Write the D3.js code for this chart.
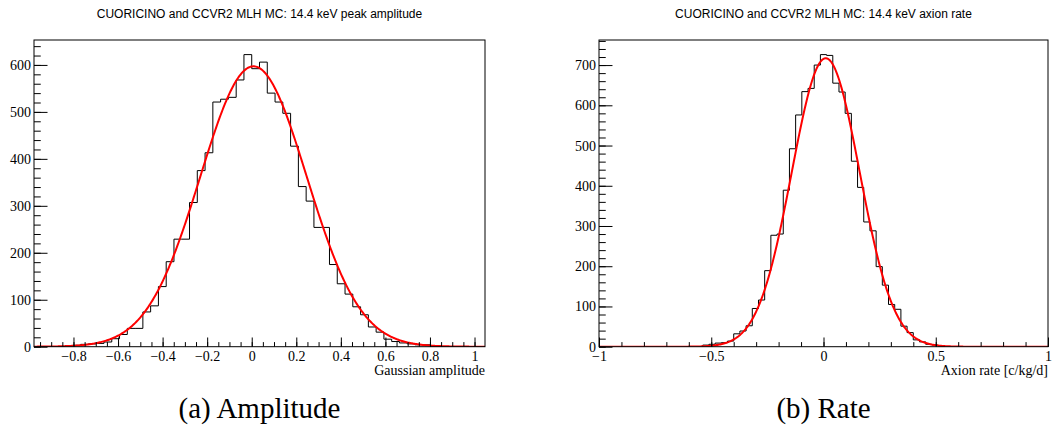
<!DOCTYPE html>
<html>
<head>
<meta charset="utf-8">
<script src="https://cdn.jsdelivr.net/npm/d3@7"></script>
<style>
  body { margin: 0; background: #fff; }
  svg { display: block; }
  .title { font-family: "Liberation Sans", Arial, sans-serif; font-size: 12px; fill: #000; }
  .axtitle { font-family: "Liberation Serif", "Times New Roman", serif; font-size: 14px; fill: #000; }
  .caption { font-family: "Liberation Serif", "Times New Roman", serif; font-size: 29px; fill: #000; }
</style>
</head>
<body>
<svg id="chart" width="1052" height="429"></svg>
<script>
// (a) peak amplitude toy MC: 58 bins, first edge at -28 bins
const ampBinWidth = 0.0349;
const ampFirstEdge = -28 * ampBinWidth;
const ampCounts = [
  0, 0, 0, 0, 2, 3, 5, 6, 7, 10,
  17, 26, 39, 39, 74, 87, 128, 181, 229, 229,
  307, 375, 413, 521, 527, 531, 568, 622, 592, 606,
  540, 521, 497, 427, 341, 310, 254, 254, 175, 134,
  112, 85, 68, 42, 31, 16, 11, 8, 6, 4,
  4, 1, 0, 0, 0, 0, 0, 0
];
// gaussian fit
const ampFit = { norm: 597, mean: 0.008, sigma: 0.239 };

// (b) axion rate toy MC: bins centred on 0, non-empty ones only
const rateBinWidth = 0.02758;
const rateFirstEdge = -19.5 * rateBinWidth;
const rateCounts = [
  4, 6, 9, 10, 14, 32, 39, 52, 95, 116,
  189, 277, 280, 389, 492, 576, 634, 642, 700, 726,
  724, 655, 633, 580, 461, 396, 310, 288, 199, 153,
  105, 93, 51, 35, 17, 12, 6, 4, 2
];
const rateFit = { norm: 717, mean: 0.01, sigma: 0.151 };

const panels = [
  {
    title: 'CUORICINO and CCVR2 MLH MC: 14.4 keV peak amplitude',
    xTitle: 'Gaussian amplitude',
    caption: '(a) Amplitude',
    counts: ampCounts, first: ampFirstEdge, width: ampBinWidth, fit: ampFit,
    xDomain: [ampFirstEdge, ampFirstEdge + ampCounts.length * ampBinWidth],
    xMajor: 0.2, xMinor: 0.05, yMajor: 100, yMinor: 20,
    box: { x0: 34, x1: 485, y0: 40, y1: 346.7 }
  },
  {
    title: 'CUORICINO and CCVR2 MLH MC: 14.4 keV axion rate',
    xTitle: 'Axion rate [c/kg/d]',
    caption: '(b) Rate',
    counts: rateCounts, first: rateFirstEdge, width: rateBinWidth, fit: rateFit,
    xDomain: [-1, 1],
    xMajor: 0.5, xMinor: 0.1, yMajor: 100, yMinor: 20,
    box: { x0: 599, x1: 1048, y0: 40, y1: 346.7 }
  }
];

const svg = d3.select('#chart');

function steps(d0, d1, step) {
  const a = Math.ceil(d0 / step - 1e-9), b = Math.floor(d1 / step + 1e-9);
  return d3.range(a, b + 1).map(k => +(k * step).toFixed(6));
}

panels.forEach((p, pi) => {
  const b = p.box;
  const x = d3.scaleLinear().domain(p.xDomain).range([b.x0, b.x1]);
  const y = d3.scaleLinear().domain([0, d3.max(p.counts) * 1.05]).range([b.y1, b.y0]);
  const g = svg.append('g');

  const clipId = 'clip' + pi;
  svg.append('clipPath').attr('id', clipId)
    .append('rect').attr('x', b.x0).attr('y', b.y0)
    .attr('width', b.x1 - b.x0).attr('height', b.y1 - b.y0);

  // histogram outline
  const pts = [[p.first, 0]];
  p.counts.forEach((c, i) => {
    pts.push([p.first + i * p.width, c]);
    pts.push([p.first + (i + 1) * p.width, c]);
  });
  pts.push([p.first + p.counts.length * p.width, 0]);
  g.append('path')
    .attr('d', d3.line().x(d => x(d[0])).y(d => y(d[1]))(pts))
    .attr('fill', 'none').attr('stroke', '#000').attr('stroke-width', 1)
    .attr('clip-path', `url(#${clipId})`);

  // fit curve
  const f = p.fit;
  const xs = d3.range(0, 501).map(i => p.xDomain[0] + i * (p.xDomain[1] - p.xDomain[0]) / 500);
  g.append('path')
    .attr('d', d3.line().x(v => x(v)).y(v => y(f.norm * Math.exp(-0.5 * ((v - f.mean) / f.sigma) ** 2)))(xs))
    .attr('fill', 'none').attr('stroke', '#ff0000').attr('stroke-width', 2)
    .attr('clip-path', `url(#${clipId})`);

  // axes, ROOT style ticks inside the frame
  const fmt = d3.format('~g');
  const xMaj = steps(p.xDomain[0], p.xDomain[1], p.xMajor);
  const xMin = steps(p.xDomain[0], p.xDomain[1], p.xMinor);
  const yTop = y.domain()[1];
  const yMaj = steps(0, yTop, p.yMajor);
  const yMin = steps(0, yTop, p.yMinor);
  const xTick = 0.03 * (b.y1 - b.y0), yTick = 0.03 * (b.x1 - b.x0);

  g.append('g').attr('transform', `translate(0,${b.y1})`)
    .call(d3.axisBottom(x).tickValues(xMin).tickFormat('').tickSizeInner(-xTick / 2).tickSizeOuter(0))
    .call(a => a.select('.domain').remove());
  g.append('g').attr('transform', `translate(0,${b.y1})`)
    .call(d3.axisBottom(x).tickValues(xMaj).tickFormat(fmt).tickSizeInner(-xTick).tickSizeOuter(0).tickPadding(4))
    .call(a => a.select('.domain').remove());
  g.append('g').attr('transform', `translate(${b.x0},0)`)
    .call(d3.axisLeft(y).tickValues(yMin).tickFormat('').tickSizeInner(-yTick / 2).tickSizeOuter(0))
    .call(a => a.select('.domain').remove());
  g.append('g').attr('transform', `translate(${b.x0},0)`)
    .call(d3.axisLeft(y).tickValues(yMaj).tickFormat(fmt).tickSizeInner(-yTick).tickSizeOuter(0).tickPadding(3))
    .call(a => a.select('.domain').remove());
  g.selectAll('.tick line').attr('stroke', '#000');
  g.selectAll('.tick text')
    .attr('font-family', '"Liberation Serif", "Times New Roman", serif')
    .attr('font-size', 14).attr('fill', '#000')
    .style('font-family', '"Liberation Serif", "Times New Roman", serif')
    .style('font-size', '14px');

  // frame
  g.append('rect').attr('x', b.x0).attr('y', b.y0)
    .attr('width', b.x1 - b.x0).attr('height', b.y1 - b.y0)
    .attr('fill', 'none').attr('stroke', '#000').attr('stroke-width', 1);

  g.append('text').attr('class', 'title')
    .attr('x', (b.x0 + b.x1) / 2).attr('y', 18).attr('text-anchor', 'middle').text(p.title);
  g.append('text').attr('class', 'axtitle')
    .attr('x', b.x1).attr('y', 375).attr('text-anchor', 'end').text(p.xTitle);
  g.append('text').attr('class', 'caption')
    .attr('x', (b.x0 + b.x1) / 2).attr('y', 418).attr('text-anchor', 'middle').text(p.caption);
});
</script>
</body>
</html>
